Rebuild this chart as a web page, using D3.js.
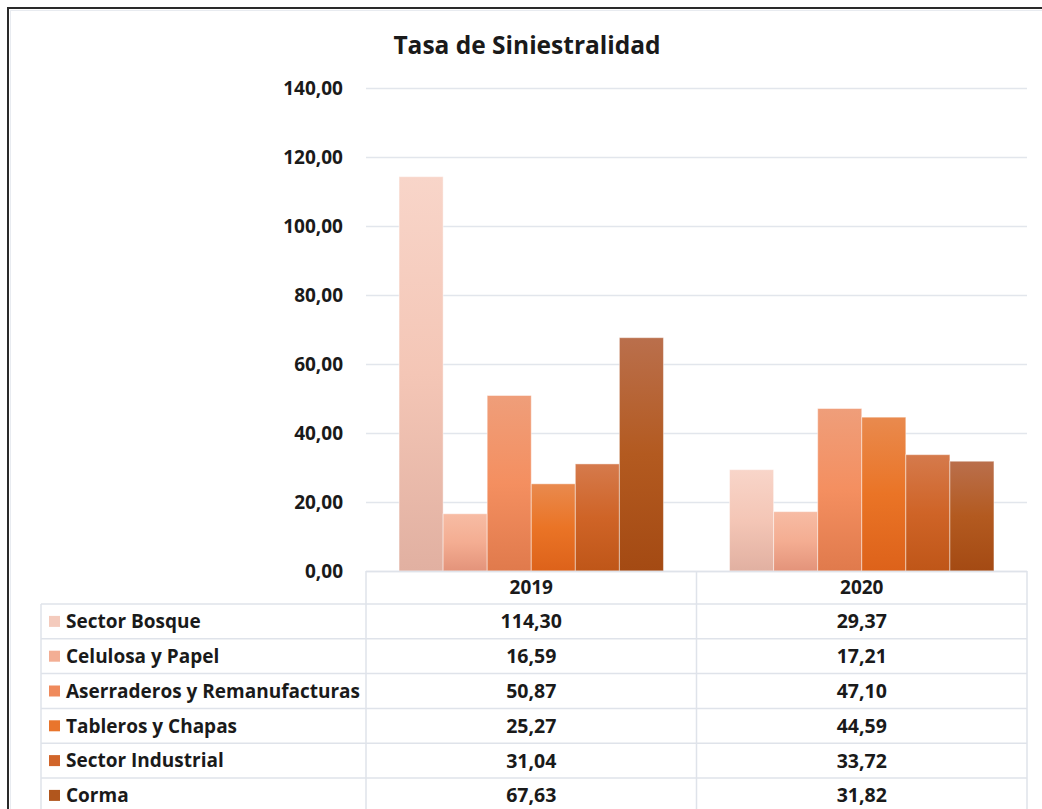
<!DOCTYPE html>
<html>
<head>
<meta charset="utf-8">
<script src="https://cdn.jsdelivr.net/npm/d3@7"></script>
<style>
    body { margin: 0; background: #fff; }
    svg text { font-family: "Open Sans", Lato, sans-serif; font-weight: bold; fill: #1a1a1a; }
</style>
</head>
<body>
<div id="chart"></div>
<script>
// Chart data
const years = ["2019", "2020"];
const seriesNames = ["Sector Bosque", "Celulosa y Papel", "Aserraderos y Remanufacturas",
    "Tableros y Chapas", "Sector Industrial", "Corma"];
const values2019 = [114.30, 16.59, 50.87, 25.27, 31.04, 67.63];
const values2020 = [29.37, 17.21, 47.10, 44.59, 33.72, 31.82];
const yTicks = [0, 20, 40, 60, 80, 100, 120, 140];

// gradient stops per series: top, middle, bottom
const seriesGradients = [
    ["#f8d5c9", "#f4c6b6", "#e1b0a1"],
    ["#f7bca4", "#f4ad92", "#e3937a"],
    ["#ef9e7a", "#f48f60", "#e07a4c"],
    ["#e98a4e", "#ea7426", "#dd621a"],
    ["#d57a4c", "#cf6427", "#bf5618"],
    ["#ba6f4c", "#b35a20", "#a44a13"]
];
const legendColors = ["#f4cbbd", "#f3ae94", "#ef8a5c", "#e9752c", "#d1652a", "#b1561d"];

const width = 1042, height = 809;
const plot = { left: 366, right: 1027, top: 88, bottom: 571 };
const table = { left: 41, headerH: 33, rowH: 34.8 };

const svg = d3.select("#chart").append("svg")
    .attr("width", width)
    .attr("height", height);

const defs = svg.append("defs");
seriesGradients.forEach((stops, i) => {
    const g = defs.append("linearGradient")
        .attr("id", "grad" + i)
        .attr("x1", 0).attr("y1", 0).attr("x2", 0).attr("y2", 1);
    g.append("stop").attr("offset", "0%").attr("stop-color", stops[0]);
    g.append("stop").attr("offset", "50%").attr("stop-color", stops[1]);
    g.append("stop").attr("offset", "100%").attr("stop-color", stops[2]);
});

// frame
svg.append("line").attr("x1", 8).attr("y1", 7).attr("x2", 8).attr("y2", height)
    .attr("stroke", "#2a2a2a").attr("stroke-width", 2);
svg.append("line").attr("x1", 7).attr("y1", 8).attr("x2", width).attr("y2", 8)
    .attr("stroke", "#2a2a2a").attr("stroke-width", 2);
svg.append("line").attr("x1", 10.5).attr("y1", 10).attr("x2", 10.5).attr("y2", height)
    .attr("stroke", "#e8ebf0").attr("stroke-width", 1);
svg.append("line").attr("x1", 10).attr("y1", 10.5).attr("x2", width).attr("y2", 10.5)
    .attr("stroke", "#e8ebf0").attr("stroke-width", 1);

// title
svg.append("text")
    .attr("x", 527).attr("y", 54)
    .attr("text-anchor", "middle")
    .style("font-size", "24.5px")
    .text("Tasa de Siniestralidad");

const y = d3.scaleLinear().domain([0, 140]).range([plot.bottom, plot.top]);
const x0 = d3.scaleBand().domain(years).range([plot.left, plot.right]).paddingInner(0).paddingOuter(0);
const x1 = d3.scaleBand().domain(seriesNames).range([0, x0.bandwidth()]).paddingInner(0).paddingOuter(0.75);

const fmt = v => d3.format(".2f")(v).replace(".", ",");

// gridlines
svg.append("g")
    .selectAll("line")
    .data(yTicks)
    .join("line")
    .attr("x1", plot.left).attr("x2", plot.right)
    .attr("y1", d => y(d) + 0.5).attr("y2", d => y(d) + 0.5)
    .attr("stroke", "#e2e6ec").attr("stroke-width", 1.5);

// y axis labels
const yAxis = svg.append("g")
    .attr("transform", `translate(${plot.left - 23},0)`)
    .call(d3.axisLeft(y).tickValues(yTicks).tickFormat(fmt).tickSize(0).tickPadding(0));
yAxis.select(".domain").remove();
yAxis.selectAll("text").style("font-size", "19px").attr("dy", "0.35em")
    .style("font-family", "'Open Sans', Lato, sans-serif").attr("fill", "#1a1a1a");

// bars
const rows = years.map((yr, j) => ({ year: yr, values: j === 0 ? values2019 : values2020 }));
svg.append("g")
    .selectAll("g")
    .data(rows)
    .join("g")
    .attr("transform", d => `translate(${x0(d.year)},0)`)
    .selectAll("rect")
    .data(d => d.values.map((v, i) => ({ name: seriesNames[i], value: v, i })))
    .join("rect")
    .attr("x", d => x1(d.name))
    .attr("width", x1.bandwidth())
    .attr("y", d => y(d.value))
    .attr("height", d => y(0) - y(d.value))
    .attr("fill", d => `url(#grad${d.i})`)
    .attr("stroke", "rgba(255,255,255,0.45)")
    .attr("stroke-width", 1);

// data table
const tableTop = plot.bottom;
const bodyTop = tableTop + table.headerH;
const tableBottom = bodyTop + table.rowH * seriesNames.length;
const gridColor = "#dfe3ea";
const tg = svg.append("g");

// horizontal lines
tg.append("line").attr("x1", plot.left).attr("x2", plot.right)
    .attr("y1", tableTop + 0.5).attr("y2", tableTop + 0.5)
    .attr("stroke", gridColor).attr("stroke-width", 1.5);
d3.range(seriesNames.length + 1).forEach(k => {
    tg.append("line").attr("x1", table.left).attr("x2", plot.right)
        .attr("y1", bodyTop + k * table.rowH).attr("y2", bodyTop + k * table.rowH)
        .attr("stroke", gridColor).attr("stroke-width", 1.5);
});
// vertical lines
tg.append("line").attr("x1", table.left).attr("x2", table.left)
    .attr("y1", bodyTop).attr("y2", tableBottom)
    .attr("stroke", gridColor).attr("stroke-width", 1.5);
[plot.left, x0("2020"), plot.right].forEach(xv => {
    tg.append("line").attr("x1", xv).attr("x2", xv)
        .attr("y1", tableTop).attr("y2", tableBottom)
        .attr("stroke", gridColor).attr("stroke-width", 1.5);
});

// header labels
tg.selectAll("text.year")
    .data(years)
    .join("text")
    .attr("class", "year")
    .attr("x", d => x0(d) + x0.bandwidth() / 2)
    .attr("y", tableTop + table.headerH / 2)
    .attr("dy", "0.36em")
    .attr("text-anchor", "middle")
    .style("font-size", "19px")
    .text(d => d);

// legend keys and names
seriesNames.forEach((name, i) => {
    const cy = bodyTop + table.rowH * (i + 0.5);
    tg.append("rect")
        .attr("x", 49).attr("y", cy - 5.5)
        .attr("width", 11).attr("height", 11)
        .attr("fill", legendColors[i]);
    tg.append("text")
        .attr("x", 66).attr("y", cy)
        .attr("dy", "0.36em")
        .style("font-size", "19px")
        .text(name);
    rows.forEach(r => {
        tg.append("text")
            .attr("x", x0(r.year) + x0.bandwidth() / 2)
            .attr("y", cy)
            .attr("dy", "0.36em")
            .attr("text-anchor", "middle")
            .style("font-size", "19.5px")
            .text(fmt(r.values[i]));
    });
});
</script>
</body>
</html>
